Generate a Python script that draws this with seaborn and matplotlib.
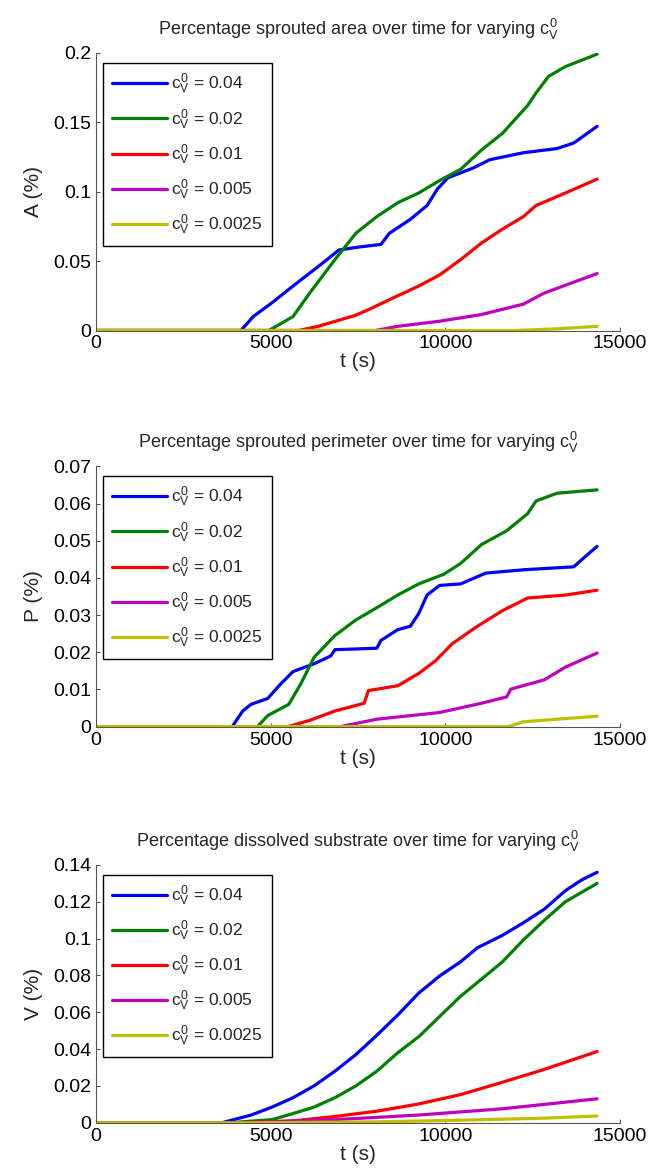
import numpy as np
import pandas as pd
import matplotlib.pyplot as plt
import matplotlib as mpl
import seaborn as sns
from matplotlib import font_manager
from matplotlib.ticker import FuncFormatter

# --------------------------------------------------------------
# Data
# --------------------------------------------------------------

conc = ["0.04", "0.02", "0.01", "0.005", "0.0025"]
colors = ["#0000ff", "#008000", "#ff0000", "#bf00bf", "#bfbf00"]

# sprouted area A (%)
area = {
  "0.04": ([0, 4150, 4500, 5040, 5640, 6360, 6960, 7500, 8160, 8400, 9000, 9480, 9780, 10080, 10800, 11280, 12240, 13200, 13680, 14350],
           [0, 0, 0.010, 0.020, 0.032, 0.046, 0.058, 0.060, 0.062, 0.070, 0.080, 0.090, 0.102, 0.110, 0.117, 0.123, 0.128, 0.131, 0.135, 0.147]),
  "0.02": ([0, 4950, 5640, 6120, 6840, 7440, 8040, 8640, 9240, 9840, 10440, 11040, 11640, 12360, 12600, 12960, 13440, 14350],
           [0, 0, 0.010, 0.027, 0.051, 0.070, 0.082, 0.092, 0.099, 0.108, 0.116, 0.130, 0.142, 0.162, 0.171, 0.183, 0.190, 0.199]),
  "0.01": ([0, 5800, 6360, 7440, 7800, 8640, 9240, 9840, 10440, 11040, 11640, 12240, 12600, 13440, 14350],
           [0, 0, 0.003, 0.011, 0.015, 0.025, 0.032, 0.040, 0.051, 0.063, 0.073, 0.082, 0.090, 0.099, 0.109]),
  "0.005": ([0, 8000, 8640, 9840, 11040, 12240, 12840, 14350],
            [0, 0, 0.003, 0.0067, 0.0115, 0.019, 0.027, 0.041]),
  "0.0025": ([0, 12000, 13200, 14350],
             [0, 0, 0.0012, 0.003]),
}

# sprouted perimeter P (%)
perim = {
  "0.04": ([0, 3900, 4200, 4440, 4920, 5280, 5640, 6240, 6720, 6840, 8040, 8160, 8640, 9000, 9240, 9480, 9840, 10440, 11160, 12240, 13680, 14040, 14350],
           [0, 0, 0.0042, 0.0060, 0.0076, 0.0114, 0.0148, 0.0169, 0.0190, 0.0207, 0.0211, 0.0232, 0.0261, 0.0270, 0.0304, 0.0354, 0.0380, 0.0384, 0.0413, 0.0422, 0.0430, 0.0460, 0.0485]),
  "0.02": ([0, 4620, 4920, 5520, 5880, 6240, 6840, 7440, 8040, 8640, 9240, 9960, 10440, 11040, 11760, 12360, 12600, 13200, 14350],
           [0, 0, 0.0030, 0.0060, 0.0118, 0.0186, 0.0245, 0.0287, 0.0320, 0.0354, 0.0384, 0.0410, 0.0439, 0.0490, 0.0527, 0.0573, 0.0607, 0.0628, 0.0637]),
  "0.01": ([0, 5500, 6120, 6840, 7680, 7800, 8640, 9240, 9720, 10200, 10920, 11640, 12360, 13440, 14350],
           [0, 0, 0.0017, 0.0042, 0.0063, 0.0097, 0.0110, 0.0143, 0.0177, 0.0223, 0.0270, 0.0312, 0.0346, 0.0354, 0.0367]),
  "0.005": ([0, 7000, 8040, 9840, 11040, 11760, 11880, 12840, 13440, 14350],
            [0, 0, 0.0020, 0.0038, 0.0063, 0.0080, 0.0101, 0.0126, 0.0160, 0.0198]),
  "0.0025": ([0, 11800, 12240, 13200, 14350],
             [0, 0, 0.0013, 0.0020, 0.0028]),
}

# dissolved substrate V (%)
volume = {
  "0.04": ([0, 3600, 4440, 5040, 5640, 6240, 6840, 7440, 8040, 8640, 9240, 9840, 10440, 10920, 11640, 12240, 12840, 13440, 13920, 14350],
           [0, 0, 0.0042, 0.0085, 0.0136, 0.020, 0.028, 0.037, 0.0475, 0.0585, 0.0704, 0.0797, 0.0874, 0.095, 0.1018, 0.1086, 0.116, 0.126, 0.132, 0.136]),
  "0.02": ([0, 3800, 5040, 5640, 6240, 6840, 7440, 8040, 8640, 9240, 9840, 10440, 11040, 11640, 12240, 12840, 13440, 14350],
           [0, 0, 0.0017, 0.005, 0.0085, 0.0136, 0.020, 0.028, 0.038, 0.0467, 0.0577, 0.0687, 0.078, 0.0874, 0.0993, 0.110, 0.120, 0.130]),
  "0.01": ([0, 4000, 5640, 6840, 8040, 9240, 10440, 11640, 12840, 14350],
           [0, 0, 0.001, 0.0034, 0.0063, 0.0102, 0.0153, 0.022, 0.029, 0.0387]),
  "0.005": ([0, 4200, 6840, 9240, 11640, 14350],
            [0, 0, 0.0017, 0.0042, 0.0076, 0.013]),
  "0.0025": ([0, 4500, 8040, 10440, 12840, 14350],
             [0, 0, 0.0005, 0.0014, 0.0025, 0.0037]),
}

titles = ["Percentage sprouted area over time for varying $c_V^0$",
          "Percentage sprouted perimeter over time for varying $c_V^0$",
          "Percentage dissolved substrate over time for varying $c_V^0$"]
ylabels = ["A (%)", "P (%)", "V (%)"]
yticks = [[0, 0.05, 0.1, 0.15, 0.2],
          [0, 0.01, 0.02, 0.03, 0.04, 0.05, 0.06, 0.07],
          [0, 0.02, 0.04, 0.06, 0.08, 0.1, 0.12, 0.14]]
xticks = [0, 5000, 10000, 15000]

# --------------------------------------------------------------
# Plot settings
# --------------------------------------------------------------

sns.set_style("ticks")
installed = {f.name for f in font_manager.fontManager.ttflist}
main_font = "Liberation Sans Narrow" if "Liberation Sans Narrow" in installed else "Liberation Sans"
plt.rcParams["font.family"] = [main_font, "Liberation Sans", "DejaVu Sans"]
plt.rcParams["mathtext.fontset"] = "custom"
plt.rcParams["mathtext.rm"] = main_font
plt.rcParams["mathtext.it"] = main_font
plt.rcParams["xtick.direction"] = "in"
plt.rcParams["ytick.direction"] = "in"

fig = plt.figure(figsize=(6.49, 11.72), dpi=100)
positions = [[0.148, 0.718, 0.807, 0.237],
             [0.148, 0.380, 0.807, 0.222],
             [0.148, 0.042, 0.807, 0.220]]

palette = dict(zip(conc, colors))

for i, series in enumerate([area, perim, volume]):
  ax = fig.add_axes(positions[i])
  rows = []
  for c in conc:
    ts, vs = series[c]
    for t, v in zip(ts, vs):
      rows.append({"t": t, "val": v, "c": c})
  df = pd.DataFrame(rows)
  sns.lineplot(data=df, x="t", y="val", hue="c", hue_order=conc,
               palette=palette, estimator=None, sort=False,
               linewidth=2.3, ax=ax)
  ax.set_xlim(0, 15000)
  ax.set_ylim(0, yticks[i][-1])
  ax.set_xticks(xticks)
  ax.set_yticks(yticks[i])
  ax.yaxis.set_major_formatter(FuncFormatter(lambda v, p: "%g" % v))
  ax.tick_params(labelsize=14, length=3, width=0.6, colors="#333333", labelcolor="black")
  for s in ["left", "bottom"]:
    ax.spines[s].set_linewidth(0.8)
    ax.spines[s].set_color("#555555")
  sns.despine(ax=ax)
  ax.set_title(titles[i], fontsize=13, pad=13)
  ax.set_xlabel("t (s)", fontsize=15, labelpad=0)
  ax.set_ylabel(ylabels[i], fontsize=15, labelpad=7)
  handles, _ = ax.get_legend_handles_labels()
  labels = ["$c_V^0$ = " + c for c in conc]
  leg = ax.legend(handles, labels, loc="upper left", bbox_to_anchor=(0.013, 0.962),
                  borderaxespad=0, fontsize=12.5, handlelength=3.2, labelspacing=0.62,
                  handletextpad=0.25, borderpad=0.5, fancybox=False,
                  edgecolor="black", framealpha=1)
  leg.get_frame().set_linewidth(1.0)
  for h in leg.get_lines():
    h.set_linewidth(2.3)

plt.savefig("out.png", dpi=100)
